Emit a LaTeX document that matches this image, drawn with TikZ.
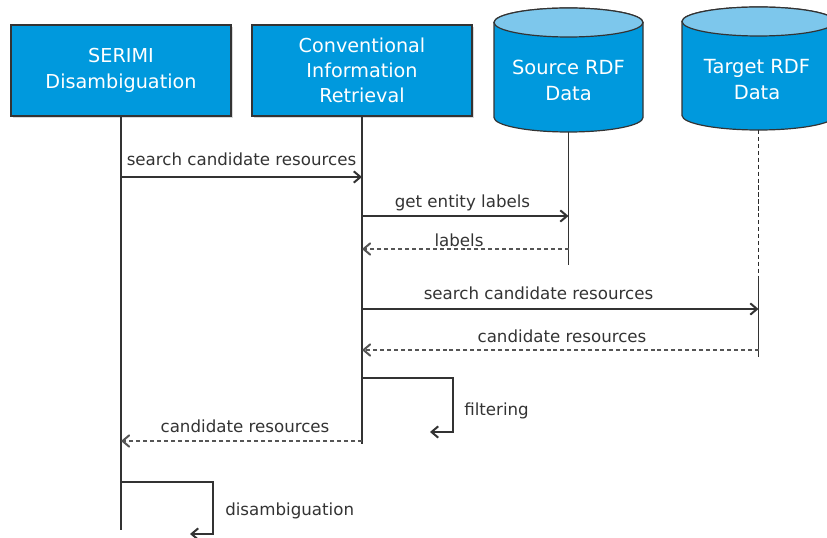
\documentclass[tikz,border=0pt]{standalone}
\usepackage{fontspec}
\setmainfont{DejaVu Sans}
\usetikzlibrary{arrows.meta,shadows}

\definecolor{boxblue}{HTML}{0099DD}
\definecolor{toplight}{HTML}{7DC7EC}
\definecolor{ink}{HTML}{333333}
\definecolor{retgray}{HTML}{555555}

% database cylinder: centre x, top-ellipse y, bottom-ellipse y, x radius, y radius
\newcommand\dbcylinder[5]{%
  \path[draw=ink, line width=0.9pt, fill=boxblue]
    (#1-#4,#2) -- (#1-#4,#3)
    arc[start angle=180, end angle=360, x radius=#4, y radius=#5]
    -- (#1+#4,#2)
    arc[start angle=0, end angle=180, x radius=#4, y radius=#5] -- cycle;
  \path[draw=ink, line width=0.9pt, fill=toplight]
    (#1,#2) ellipse[x radius=#4, y radius=#5];
}

\begin{document}
\begin{tikzpicture}[x=0.75pt, y=0.75pt,
  actor/.style={draw=ink, line width=0.9pt, fill=boxblue, text=white,
    minimum width=165pt, minimum height=68.25pt, inner sep=0pt, align=center,
    font=\fontsize{14.4}{19}\selectfont,
    drop shadow={shadow xshift=1.3pt, shadow yshift=-1.3pt, opacity=0.3}},
  dbtext/.style={text=white, align=center, inner sep=0pt,
    font=\fontsize{14.6}{19.5}\selectfont},
  life/.style={draw=ink, line width=0.9pt},
  lifedash/.style={draw=ink!85!black, line width=1pt, dash pattern=on 3.2pt off 2pt},
  msg/.style={draw=ink, line width=0.9pt, -{Straight Barb[length=5pt, width=8.5pt, line width=1.5pt]}},
  reply/.style={draw=retgray, line width=0.9pt, dash pattern=on 3pt off 2.2pt,
    -{Straight Barb[length=5pt, width=8.5pt, line width=1.5pt, line cap=round]}},
  lbl/.style={text=ink, inner sep=0pt, anchor=base, font=\fontsize{12.5}{15}\selectfont},
]
\useasboundingbox (0,0) rectangle (827,-538);
\clip (0,0) rectangle (827,-538);

% participants
\node[actor] (serimi) at (121,-70.5) {SERIMI\\Disambiguation};
\node[actor] (cir) at (362,-70.5) {Conventional\\Information\\Retrieval};

\dbcylinder{568.5}{-22.5}{-117.5}{74.5}{14.5}
\node[dbtext] (src) at (568.5,-80) {Source RDF\\Data};
\coordinate (srcTop) at (568.5,-132);
\coordinate (srcEnd) at (568.5,-265);

\dbcylinder{758.5}{-21.5}{-115.5}{76.5}{14.5}
\node[dbtext] (tgt) at (757,-80) {Target RDF\\Data};
\coordinate (tgtTop) at (758.5,-130);
\coordinate (tgtMid) at (758.5,-277);
\coordinate (tgtEnd) at (758.5,-357);

% lifelines
\coordinate (serimiEnd) at (121,-530);
\coordinate (cirEnd) at (362,-444);
\draw[life] (serimi.south) -- (serimiEnd);
\draw[life] (cir.south) -- (cirEnd);
\draw[life] (srcTop) -- (srcEnd);
\draw[lifedash] (tgtTop) -- (tgtMid);
\draw[life] (tgtMid) -- (tgtEnd);

% message levels
\coordinate (m1) at (0,-177);
\coordinate (m2) at (0,-216);
\coordinate (m3) at (0,-249);
\coordinate (m4) at (0,-309);
\coordinate (m5) at (0,-350);
\coordinate (m7) at (0,-441);

% messages
\draw[msg] (serimi.south |- m1) -- (cir.south |- m1);
\node[lbl] (l1) at (241.5,-166) {search candidate resources};

\draw[msg] (cir.south |- m2) -- (srcTop |- m2);
\node[lbl] (l2) at (462.5,-208) {get entity labels};

\draw[reply] (srcTop |- m3) -- (cir.south |- m3);
\node[lbl] (l3) at (459,-247) {labels};

\draw[msg] (cir.south |- m4) -- (tgtTop |- m4);
\node[lbl] (l4) at (538.5,-299) {search candidate resources};

\draw[reply] (tgtTop |- m5) -- (cir.south |- m5);
\node[lbl] (l5) at (562,-342) {candidate resources};

% filtering (self call)
\coordinate (f0) at (362,-378);
\coordinate (f1) at (453,-432);
\coordinate (f2) at (430,-432);
\draw[msg] (f0) -| (f1) -- (f2);
\node[lbl, anchor=base west] (l6) at (464,-415) {filtering};

\draw[reply] (cir.south |- m7) -- (serimi.south |- m7);
\node[lbl] (l7) at (245,-432) {candidate resources};

% disambiguation (self call)
\coordinate (d0) at (121,-482);
\coordinate (d1) at (213,-534);
\coordinate (d2) at (190,-534);
\draw[msg] (d0) -| (d1) -- (d2);
\node[lbl, anchor=base west] (l8) at (225,-515) {disambiguation};
\end{tikzpicture}
\end{document}
